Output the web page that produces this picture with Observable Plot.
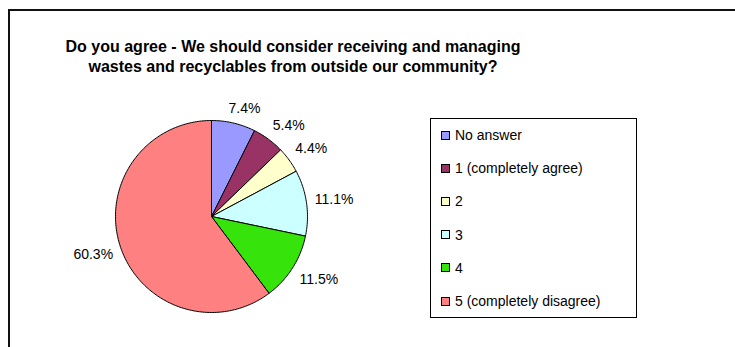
<!DOCTYPE html>
<html>
<head>
<meta charset="utf-8">
<script src="https://cdn.jsdelivr.net/npm/d3@7"></script>
<script src="https://cdn.jsdelivr.net/npm/@observablehq/plot@0.6"></script>
<style>
  html, body { margin: 0; padding: 0; background: #fff; }
  #wrap { position: relative; width: 735px; height: 347px; overflow: hidden; font-family: "Liberation Sans", Arial, sans-serif; }
  #frame { position: absolute; left: 8px; top: 9px; width: 800px; height: 400px; border-left: 2px solid #111; border-top: 2px solid #111; }
  #title { position: absolute; left: 0; width: 586px; top: 37px; text-align: center; font-weight: bold; font-size: 16px; line-height: 20px; color: #000; white-space: nowrap; }
  #chart { position: absolute; left: 0; top: 0; }
  #legend { position: absolute; left: 430px; top: 118px; width: 207px; height: 200px; border: 1px solid #000; box-sizing: border-box; background: #fff; }
  .row { position: absolute; left: 10px; height: 16px; display: flex; align-items: center; font-size: 14px; color: #000; white-space: nowrap; }
  .sw { width: 7px; height: 7px; border: 1px solid #000; margin-right: 5px; flex: none; }
</style>
</head>
<body>
<div id="wrap">
  <div id="frame"></div>
  <div id="chart"></div>
  <div id="title">Do you agree - We should consider receiving and managing<br>wastes and recyclables from outside our community?</div>
  <div id="legend"></div>
</div>
<script>
// ---- data ----
const categories = ["No answer", "1 (completely agree)", "2", "3", "4", "5 (completely disagree)"];
const percents = [7.4, 5.4, 4.4, 11.1, 11.5, 60.3];
const colors = ["#9999FF", "#993366", "#FFFFCC", "#CCFFFF", "#36E30A", "#FF8080"];

// ---- layout ----
const W = 735, H = 347;
const cx = 211, cy = 216, R = 96;
const labelFont = 14;

// ---- build slice polygons in unit coordinates (clockwise from 12 o'clock) ----
const total = d3.sum(percents);
const pts = [];
const labelData = [];
const clamp = v => Math.max(-1, Math.min(1, v));
let cum = 0;
categories.forEach((cat, i) => {
  const a0 = cum / total * 2 * Math.PI;
  cum += percents[i];
  const a1 = cum / total * 2 * Math.PI;
  pts.push({cat, x: 0, y: 0});
  const n = Math.max(2, Math.ceil((a1 - a0) / (Math.PI / 180)));
  for (let k = 0; k <= n; k++) {
    const a = a0 + (a1 - a0) * k / n;
    pts.push({cat, x: Math.sin(a), y: Math.cos(a)});
  }
  pts.push({cat, x: 0, y: 0});
  // label placement: anchor just outside the rim, text box pushed outward
  const am = (a0 + a1) / 2;
  const text = percents[i].toFixed(1) + "%";
  const tw = text.length * labelFont * 0.56, th = labelFont;
  const s = Math.sin(am), c = Math.cos(am);
  const ox = (tw / 2) * clamp(s * 2.5);
  const oy = (th / 2) * clamp(c * 2.5);   // upward in unit space
  const ax = s * (R + 8) + ox, ay = c * (R + 8) + oy;
  labelData.push({cat, text, x: ax / R, y: ay / R});
});

const chart = Plot.plot({
  width: W,
  height: H,
  margin: 0,
  style: {background: "transparent", fontFamily: "Liberation Sans, Arial, sans-serif", fontSize: labelFont + "px"},
  x: {domain: [-1, 1], range: [cx - R, cx + R], axis: null},
  y: {domain: [-1, 1], range: [cy + R, cy - R], axis: null},
  color: {domain: categories, range: colors},
  marks: [
    Plot.line(pts, {x: "x", y: "y", z: "cat", fill: "cat", stroke: "#000", strokeWidth: 1, strokeLinejoin: "round", curve: "linear"}),
    Plot.text(labelData, {x: "x", y: "y", text: "text", fill: "#000", fontSize: labelFont, textAnchor: "middle", lineAnchor: "middle"})
  ]
});
document.getElementById("chart").appendChild(chart);

// ---- legend (HTML) ----
const legend = document.getElementById("legend");
const rowTop0 = 8, rowStep = 33.2;
categories.forEach((cat, i) => {
  const row = document.createElement("div");
  row.className = "row";
  row.style.top = (rowTop0 + i * rowStep) + "px";
  const sw = document.createElement("div");
  sw.className = "sw";
  sw.style.background = colors[i];
  const t = document.createElement("span");
  t.textContent = cat;
  row.appendChild(sw);
  row.appendChild(t);
  legend.appendChild(row);
});
</script>
</body>
</html>
